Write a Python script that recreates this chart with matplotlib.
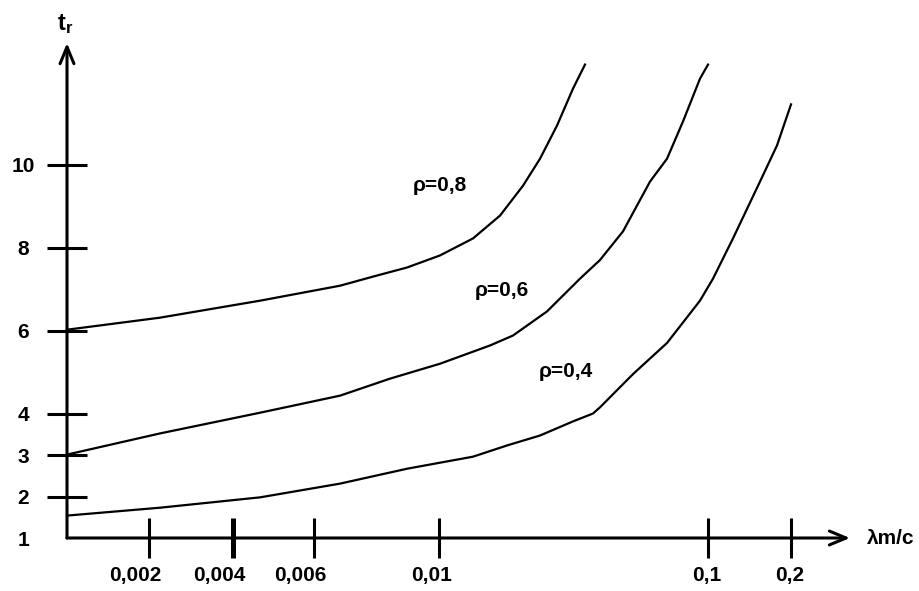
import numpy as np
import matplotlib
matplotlib.use("Agg")
import matplotlib.pyplot as plt
from matplotlib.transforms import ScaledTranslation

plt.rcParams['font.family'] = ['Liberation Sans', 'DejaVu Sans']
plt.rcParams['font.weight'] = 'bold'

# ---- data -------------------------------------------------------------
x_ticks = [0.002, 0.004, 0.006, 0.01, 0.1, 0.2]
x_tick_labels = ['0,002', '0,004', '0,006', '0,01', '0,1', '0,2']
y_ticks = [2, 3, 4, 6, 8, 10]
y_tick_labels = ['2', '3', '4', '6', '8', '10']

lam_08 = [0.0, 0.00226, 0.00467, 0.00683, 0.00789, 0.00898, 0.01033, 0.02138,
          0.03041, 0.0381, 0.04379, 0.04948, 0.05483, 0.05885]
t_08 = [6.02, 6.31, 6.72, 7.08, 7.30, 7.52, 7.81, 8.22,
        8.77, 9.49, 10.14, 10.94, 11.83, 12.41]

lam_06 = [0.0, 0.00226, 0.00467, 0.00683, 0.00843, 0.01033, 0.02706, 0.03476,
          0.04613, 0.05717, 0.06387, 0.07156, 0.0806, 0.08628, 0.09164, 0.09732, 0.1]
t_06 = [3.01, 3.52, 4.02, 4.43, 4.84, 5.20, 5.64, 5.88,
        6.46, 7.25, 7.70, 8.39, 9.59, 10.14, 11.04, 12.07, 12.41]

lam_04 = [0.0, 0.00226, 0.00467, 0.00683, 0.00898, 0.02138, 0.03275, 0.04379,
          0.05483, 0.06152, 0.06387, 0.07491, 0.08628, 0.09732, 0.10602, 0.1301,
          0.16265, 0.18313, 0.2]
t_04 = [1.54, 1.73, 1.98, 2.31, 2.67, 2.96, 3.23, 3.47,
        3.81, 4.0, 4.15, 4.95, 5.70, 6.72, 7.25, 8.22,
        9.59, 10.46, 11.45]

curve_labels = ['ρ=0,8', 'ρ=0,6', 'ρ=0,4']
label_lam = [0.01033, 0.03108, 0.05249]
label_t = [9.49, 6.96, 5.01]

# ---- non-uniform (broken) x scale of the sketch ------------------------
scale_vals = [0.0, 0.002, 0.004, 0.006, 0.01, 0.1, 0.2, 0.2711]
scale_pos = [0, 82, 166, 247, 372, 641, 724, 783]


def forward(x):
    return np.interp(x, scale_vals, scale_pos)


def inverse(p):
    return np.interp(p, scale_pos, scale_vals)


fig = plt.figure(figsize=(9.2, 5.91), dpi=100)
ax = fig.add_axes([67 / 920, 53 / 591, (850 - 67) / 920, (538 - 43) / 591])
ax.set_xscale('function', functions=(forward, inverse))
ax.set_xlim(0, 0.2711)
ax.set_ylim(1.0, 12.93)

for s in ax.spines.values():
    s.set_visible(False)

lw_curve = 1.6
for lam, t in [(lam_08, t_08), (lam_06, t_06), (lam_04, t_04)]:
    ax.plot(lam, t, color='black', lw=lw_curve, clip_on=False,
            solid_joinstyle='round')

fs = 15
for lab, lx, ly in zip(curve_labels, label_lam, label_t):
    ax.text(lx, ly, lab, fontsize=fs, ha='center', va='center')

# axes with arrows
arrow_kw = dict(arrowstyle='->,head_length=0.6,head_width=0.25', lw=2.2,
                color='black', mutation_scale=20, shrinkA=0, shrinkB=0)
ax.annotate('', xy=(1, 0), xytext=(0, 0), xycoords='axes fraction',
            textcoords='axes fraction', arrowprops=arrow_kw)
ax.annotate('', xy=(0, 1), xytext=(0, 0), xycoords='axes fraction',
            textcoords='axes fraction', arrowprops=arrow_kw)

# ticks
ax.set_xticks(x_ticks)
ax.set_xticklabels(x_tick_labels)
ax.xaxis.set_minor_locator(matplotlib.ticker.NullLocator())
ax.tick_params(axis='x', direction='inout', length=29, width=2.2, pad=6,
               labelsize=fs)
off = ScaledTranslation(13 / 100, 0, fig.dpi_scale_trans)
for lbl in ax.get_xticklabels():
    lbl.set_horizontalalignment('right')
    lbl.set_transform(lbl.get_transform() + off)
# the 0,004 tick is drawn heavier in the sketch
ax.xaxis.get_major_ticks()[1].tick1line.set_markeredgewidth(3.6)

ax.set_yticks(y_ticks)
ax.set_yticklabels(y_tick_labels)
ax.set_yticks([1], ['1'], minor=True)
ax.tick_params(axis='y', which='major', direction='inout', length=29,
               width=2.2, pad=17, labelsize=fs)
ax.tick_params(axis='y', which='minor', length=0, pad=31.5, labelsize=fs)
for lbl in ax.get_yticklabels() + ax.get_yticklabels(minor=True):
    lbl.set_horizontalalignment('center')

# axis titles
fig.text(867 / 920, 1 - 538 / 591, 'λm/c', fontsize=fs, ha='left', va='center')
fig.text(65 / 920, 1 - 24 / 591, r'$\mathregular{t_r}$', fontsize=17,
         ha='center', va='center')

fig.savefig('out.png', dpi=100)
